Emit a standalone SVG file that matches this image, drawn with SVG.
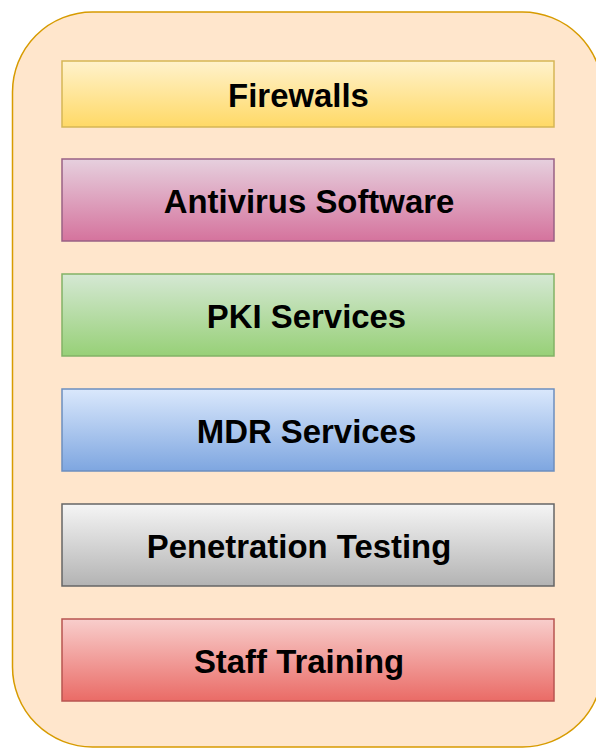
<svg xmlns="http://www.w3.org/2000/svg" width="596" height="749" viewBox="0 0 596 749">
  <defs>
    <linearGradient id="gYellow" x1="0" y1="0" x2="0" y2="1"><stop offset="0" stop-color="#fff2cc"/><stop offset="1" stop-color="#ffd966"/></linearGradient>
    <linearGradient id="gPink" x1="0" y1="0" x2="0" y2="1"><stop offset="0" stop-color="#e6d0de"/><stop offset="1" stop-color="#d5739d"/></linearGradient>
    <linearGradient id="gGreen" x1="0" y1="0" x2="0" y2="1"><stop offset="0" stop-color="#d5e8d4"/><stop offset="1" stop-color="#97d077"/></linearGradient>
    <linearGradient id="gBlue" x1="0" y1="0" x2="0" y2="1"><stop offset="0" stop-color="#dae8fc"/><stop offset="1" stop-color="#7ea6e0"/></linearGradient>
    <linearGradient id="gGray" x1="0" y1="0" x2="0" y2="1"><stop offset="0" stop-color="#f5f5f5"/><stop offset="1" stop-color="#b3b3b3"/></linearGradient>
    <linearGradient id="gRed" x1="0" y1="0" x2="0" y2="1"><stop offset="0" stop-color="#f8cecc"/><stop offset="1" stop-color="#ea6b66"/></linearGradient>
  </defs>
  <style>
    .box { stroke-width: 1.5; }
    .label { font-family: "Liberation Sans", Arial, sans-serif; font-weight: bold; font-size: 32.9px; fill: #000; text-anchor: middle; }
  </style>

  <!-- container -->
  <g id="container">
    <rect x="12.5" y="12" width="590" height="735" rx="80" ry="80" fill="#ffe6cc" stroke="#d79b00" stroke-width="1.5"/>
  </g>

  <g id="firewalls">
    <rect class="box" x="62" y="61" width="492" height="66" fill="url(#gYellow)" stroke="#d6b656"/>
    <text class="label" x="298.5" y="106.5">Firewalls</text>
  </g>
  <g id="antivirus">
    <rect class="box" x="62" y="159" width="492" height="82" fill="url(#gPink)" stroke="#996185"/>
    <text class="label" x="309" y="212.5">Antivirus Software</text>
  </g>
  <g id="pki">
    <rect class="box" x="62" y="274" width="492" height="82" fill="url(#gGreen)" stroke="#82b366"/>
    <text class="label" x="306.5" y="327.5">PKI Services</text>
  </g>
  <g id="mdr">
    <rect class="box" x="62" y="389" width="492" height="82" fill="url(#gBlue)" stroke="#6c8ebf"/>
    <text class="label" x="306.5" y="442.5">MDR Services</text>
  </g>
  <g id="pentest">
    <rect class="box" x="62" y="504" width="492" height="82" fill="url(#gGray)" stroke="#666666"/>
    <text class="label" x="299" y="557.5">Penetration Testing</text>
  </g>
  <g id="training">
    <rect class="box" x="62" y="619" width="492" height="82" fill="url(#gRed)" stroke="#b85450"/>
    <text class="label" x="299" y="672.5">Staff Training</text>
  </g>

  <g id="connectors"/>
</svg>
